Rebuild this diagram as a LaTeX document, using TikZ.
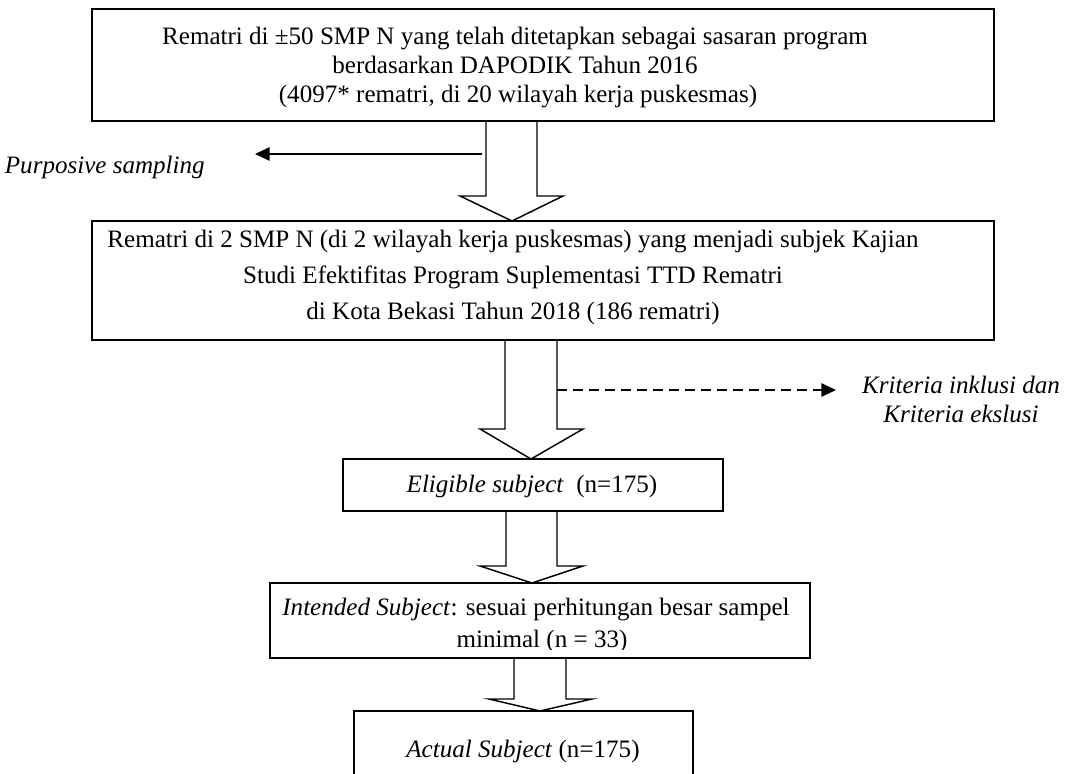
\documentclass[tikz,border=0pt]{standalone}
\usepackage{fontspec}
\setmainfont{Liberation Serif}
\usetikzlibrary{arrows.meta,calc,fit}
\begin{document}
\begin{tikzpicture}[x=0.75pt,y=-0.75pt,
  box/.style={draw,line width=1.1pt,rectangle,inner sep=0pt,outer sep=0pt},
  txt/.style={font=\fontsize{18.8}{22}\selectfont,inner sep=0pt,anchor=base},
  blk/.style={draw,line width=1.1pt,line join=miter},
  arr/.style={line width=1.4pt,-{Triangle[length=11pt,width=10pt]}},
  darr/.style={line width=1.4pt,dash pattern=on 7.5pt off 4.5pt,-{Triangle[length=11pt,width=10pt]}}]
\clip (0,0) rectangle (1067,774);
\fill[white] (0,0) rectangle (1067,774);
% corner coordinates of the boxes
\coordinate (b1a) at (92,9);   \coordinate (b1b) at (994,121);
\coordinate (b2a) at (92,221); \coordinate (b2b) at (994,340);
\coordinate (b3a) at (343,459); \coordinate (b3b) at (723,511);
\coordinate (b4a) at (270,583); \coordinate (b4b) at (810,658);
\coordinate (b5a) at (354,711); \coordinate (b5b) at (693,800);
\node[box,fit=(b1a)(b1b)] (b1) {};
\node[box,fit=(b2a)(b2b)] (b2) {};
\node[box,fit=(b3a)(b3b)] (b3) {};
\node[box,fit=(b4a)(b4b)] (b4) {};
\node[box,fit=(b5a)(b5b)] (b5) {};
% texts
\node[txt] (t1a) at (515,45) {Rematri di ±50 SMP N yang telah ditetapkan sebagai sasaran program};
\node[txt] (t1b) at (515,74) {berdasarkan DAPODIK Tahun 2016};
\node[txt] (t1c) at (518,103) {(4097* rematri, di 20 wilayah kerja puskesmas)};
\node[txt] (t2a) at (513,247) {Rematri di 2 SMP N (di 2 wilayah kerja puskesmas) yang menjadi subjek Kajian};
\node[txt] (t2b) at (513,283) {Studi Efektifitas Program Suplementasi TTD Rematri};
\node[txt] (t2c) at (513,319) {di Kota Bekasi Tahun 2018 (186 rematri)};
\node[txt] (t3) at (532,492) {\textit{Eligible subject}\ \ (n=175)};
\begin{scope}
\clip (b4.north west) rectangle (810,649);
\node[txt] (t4a) at (536,615) {\textit{Intended Subject}: sesuai perhitungan besar sampel};
\node[txt] (t4b) at (542,647) {minimal (n = 33)};
\end{scope}
\node[txt] (t5) at (523,757) {\textit{Actual Subject} (n=175)};
\node[txt,anchor=base east] (lp) at (205,173) {\textit{Purposive sampling}};
\node[txt,align=center,anchor=north] (lk) at (961,376) {\textit{Kriteria inklusi dan}\\\textit{Kriteria ekslusi}};
% block arrows
\draw[blk] (486,0 |- b1.south) -- (486,196) -- (460,196) -- (512,0 |- b2.north) -- (563,196) -- (537,196) -- (537,0 |- b1.south);
\draw[blk] (505,0 |- b2.south) -- (505,429) -- (480,429) -- (531,0 |- b3.north) -- (583,429) -- (557,429) -- (557,0 |- b2.south);
\draw[blk] (506,0 |- b3.south) -- (506,566) -- (480,566) -- (532,0 |- b4.north) -- (583,566) -- (557,566) -- (557,0 |- b3.south);
\draw[blk] (514,0 |- b4.south) -- (514,699) -- (489,699) -- (540,0 |- b5.north) -- (592,699) -- (566,699) -- (566,0 |- b4.south);
% side arrows
\coordinate (ps) at (482,154); \coordinate (pe) at (255,154);
\draw[arr] (ps) -- (pe);
\coordinate (ds) at (557,390); \coordinate (de) at (836,390);
\draw[darr] (ds) -- (de);
\end{tikzpicture}
\end{document}
